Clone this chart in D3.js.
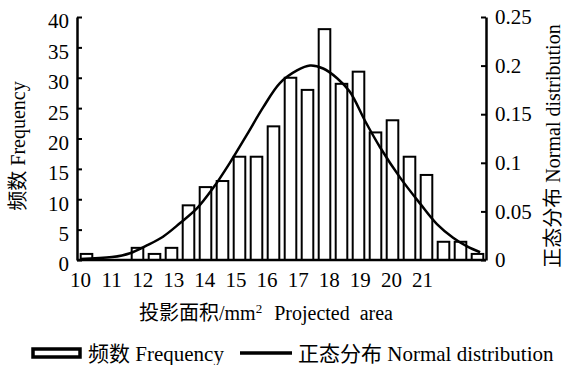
<!DOCTYPE html>
<html>
<head>
<meta charset="utf-8">
<script src="https://cdn.jsdelivr.net/npm/d3@7"></script>
<style>
  body { margin: 0; background: #fff; }
  svg text { font-family: "Liberation Serif", "Noto Sans CJK SC", serif; fill: #000; }
</style>
</head>
<body>
<svg id="chart" width="566" height="365"></svg>
<script>
// histogram counts, one per bin (left to right)
var counts = [1, 0, 0, 2, 1, 2, 9, 12, 13, 17, 17, 22, 30, 28, 38, 29, 31, 21, 23, 17, 14, 3, 3, 1];
var xTicks = [10, 11, 12, 13, 14, 15, 16, 17, 18, 19, 20, 21];
var leftTicks = [0, 5, 10, 15, 20, 25, 30, 35, 40];
var rightTicks = [0, 0.05, 0.1, 0.15, 0.2, 0.25];

// fitted normal curve (area, density)
var curveX = [10.0, 11.03, 11.61, 12.15, 12.67, 13.22, 13.76, 14.28, 14.82, 15.37, 15.89, 16.43, 16.98,
  17.40, 17.82, 18.27, 18.68, 19.17, 19.65, 20.29, 20.94, 21.48, 22.0, 22.45, 22.87];
var curveY = [0.001, 0.003, 0.007, 0.015, 0.024, 0.038, 0.053, 0.074, 0.100, 0.129, 0.157, 0.182, 0.195,
  0.200, 0.197, 0.187, 0.173, 0.143, 0.116, 0.085, 0.058, 0.037, 0.023, 0.014, 0.008];

var svg = d3.select("#chart");
var font = '"Liberation Serif", "Noto Sans CJK SC", serif';

var mLeft = 77, mRight = 486, mTop = 17, mBottom = 260;

var xBand = d3.scaleBand()
  .domain(counts.map(function (d, i) { return i; }))
  .range([mLeft + 1, mRight])
  .paddingInner(0.2)
  .paddingOuter(0.1);
var x = d3.scaleLinear().domain([10, 21]).range([80, 422]);
var yL = d3.scaleLinear().domain([0, 40]).range([mBottom, mTop]);
var yR = d3.scaleLinear().domain([0, 0.25]).range([mBottom, mTop]);

// bars
svg.append("g")
  .selectAll("rect")
  .data(counts)
  .enter()
  .append("rect")
  .attr("x", function (d, i) { return xBand(i) + 1; })
  .attr("y", function (d) { return yL(d); })
  .attr("width", xBand.bandwidth() - 2)
  .attr("height", function (d) { return yL(0) - yL(d); })
  .attr("fill", "#fff")
  .attr("stroke", "#000")
  .attr("stroke-width", 2);

// normal curve
var line = d3.line()
  .x(function (d, i) { return x(d); })
  .y(function (d, i) { return yR(curveY[i]); })
  .curve(d3.curveCatmullRom);
svg.append("path")
  .attr("d", line(curveX))
  .attr("fill", "none")
  .attr("stroke", "#000")
  .attr("stroke-width", 2.5);

// baseline
svg.append("line")
  .attr("x1", mLeft).attr("x2", mRight)
  .attr("y1", mBottom).attr("y2", mBottom)
  .attr("stroke", "#000")
  .attr("stroke-width", 2.5);

// Y axes, ticks pointing inward
var gL = svg.append("g")
  .attr("transform", "translate(" + mLeft + ",0)")
  .call(d3.axisLeft(yL).tickValues(leftTicks).tickSize(-5).tickSizeOuter(0).tickPadding(8));
var gR = svg.append("g")
  .attr("transform", "translate(" + mRight + ",0)")
  .call(d3.axisRight(yR).tickValues(rightTicks).tickSize(-5).tickSizeOuter(0).tickPadding(9)
    .tickFormat(function (d) { return d === 0 ? "0" : String(d); }));
[gL, gR].forEach(function (g) {
  g.attr("font-size", 21).attr("font-family", font);
  g.select(".domain").attr("stroke-width", 2.5);
  g.selectAll(".tick line").attr("stroke-width", 2);
});
gL.selectAll(".tick text").attr("dy", "0.52em");

// X tick labels
var gX = svg.append("g")
  .attr("transform", "translate(0," + mBottom + ")")
  .call(d3.axisBottom(x).tickValues(xTicks).tickSize(0).tickPadding(12));
gX.attr("font-size", 21).attr("font-family", font);
gX.select(".domain").remove();

// axis titles
svg.append("text")
  .attr("transform", "translate(18,146) rotate(-90)")
  .attr("text-anchor", "middle")
  .attr("dy", "0.35em")
  .attr("font-size", 20)
  .text("频数 Frequency");

svg.append("text")
  .attr("transform", "translate(553,146) rotate(-90)")
  .attr("text-anchor", "middle")
  .attr("dy", "0.35em")
  .attr("font-size", 20)
  .text("正态分布 Normal distribution");

var xt = svg.append("text")
  .attr("x", 266)
  .attr("y", 320)
  .attr("text-anchor", "middle")
  .attr("font-size", 20);
xt.append("tspan").text("投影面积/mm");
xt.append("tspan").attr("font-size", 13).attr("dy", -7).text("2");
xt.append("tspan").attr("dy", 7).attr("dx", 12).text("Projected");
xt.append("tspan").attr("dx", 10).text("area");

// legend
svg.append("rect")
  .attr("x", 33).attr("y", 349)
  .attr("width", 47).attr("height", 8)
  .attr("fill", "#fff")
  .attr("stroke", "#000")
  .attr("stroke-width", 3.5);
svg.append("text")
  .attr("x", 88).attr("y", 361)
  .attr("font-size", 21)
  .text("频数 Frequency");
svg.append("line")
  .attr("x1", 240).attr("x2", 292)
  .attr("y1", 353).attr("y2", 353)
  .attr("stroke", "#000")
  .attr("stroke-width", 3.5);
svg.append("text")
  .attr("x", 298).attr("y", 361)
  .attr("font-size", 21)
  .text("正态分布 Normal distribution");
</script>
</body>
</html>
